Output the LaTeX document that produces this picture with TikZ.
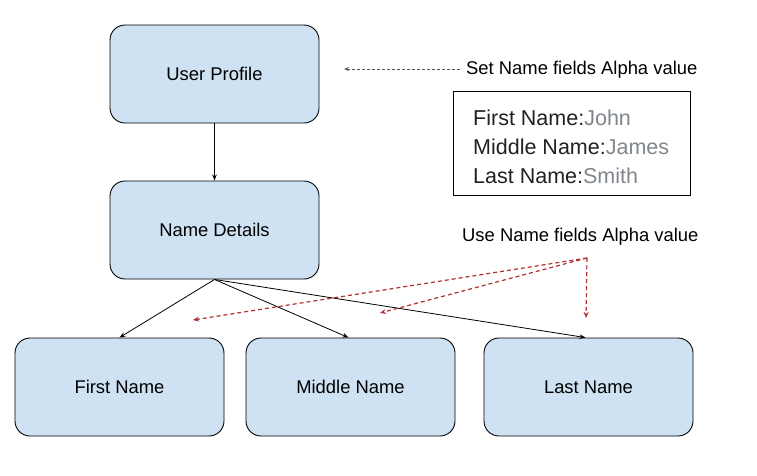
\documentclass[tikz,border=0pt]{standalone}
\usepackage{fontspec}
\setmainfont{Liberation Sans}
\usetikzlibrary{arrows.meta}
\definecolor{boxfill}{HTML}{CFE2F3}
\definecolor{valgray}{HTML}{80868B}
\definecolor{dashgray}{HTML}{595959}
\definecolor{dashred}{HTML}{B23030}
\definecolor{valblack}{HTML}{202124}
\tikzset{
  card/.style={draw=black, fill=boxfill, rounded corners=15pt, line width=0.9pt,
    minimum width=209pt, minimum height=98pt, inner sep=0pt,
    font=\fontsize{18.4pt}{22pt}\selectfont},
  link/.style={line width=0.8pt, -{Stealth[length=6pt,width=4.5pt]}},
  setlink/.style={dashgray, line width=0.8pt, dash pattern=on 3pt off 2pt, -{Stealth[length=5pt,width=4pt]}},
  uselink/.style={dashred, line width=1.2pt, dash pattern=on 4pt off 3pt, -{Stealth[length=6pt,width=5pt]}},
  note/.style={font=\fontsize{18.4pt}{22pt}\selectfont, inner sep=0pt, anchor=west},
  val/.style={font=\fontsize{21.5pt}{25pt}\selectfont, text=valblack, inner sep=0pt, anchor=west}
}
\begin{document}
\begin{tikzpicture}[x=1pt,y=-1pt]
\useasboundingbox (0,0) rectangle (757,475);
\node[card] (up) at (214.5,74) {User Profile};
\node[card] (nd) at (214.5,230) {Name Details};
\node[card] (fn) at (119.5,387) {First Name};
\node[card] (mn) at (350.5,387) {Middle Name};
\node[card] (ln) at (588.5,387) {Last Name};

\draw[link] (up.south) -- (nd.north);
\draw[link] (nd.south) -- (fn.north);
\draw[link] (nd.south) -- ([xshift=-2pt]mn.north);
\draw[link] (nd.south) -- ([xshift=-3pt]ln.north);

\node[note] (st) at (466,70) {Set Name fields Alpha value};
\coordinate (s1) at (460,69);
\coordinate (s2) at (344,69);
\draw[setlink] (s1) -- (s2);

\node[draw=black, line width=0.9pt, minimum width=237pt, minimum height=104pt, inner sep=0pt] (vb) at (571.5,143) {};
\node[val] (v1) at (473,118) {First Name:\textcolor{valgray}{John}};
\node[val] (v2) at (473,147) {Middle Name:\textcolor{valgray}{James}};
\node[val] (v3) at (473,176) {Last Name:\textcolor{valgray}{Smith}};

\node[note] (ut) at (462,237) {Use Name fields Alpha value};
\coordinate (r0) at (587,258);
\coordinate (r1) at (193,320);
\coordinate (r2) at (380,313);
\coordinate (r3) at (586,318);
\draw[uselink] (r0) -- (r1);
\draw[uselink] (r0) -- (r2);
\draw[uselink] (r0) -- (r3);
\end{tikzpicture}
\end{document}
